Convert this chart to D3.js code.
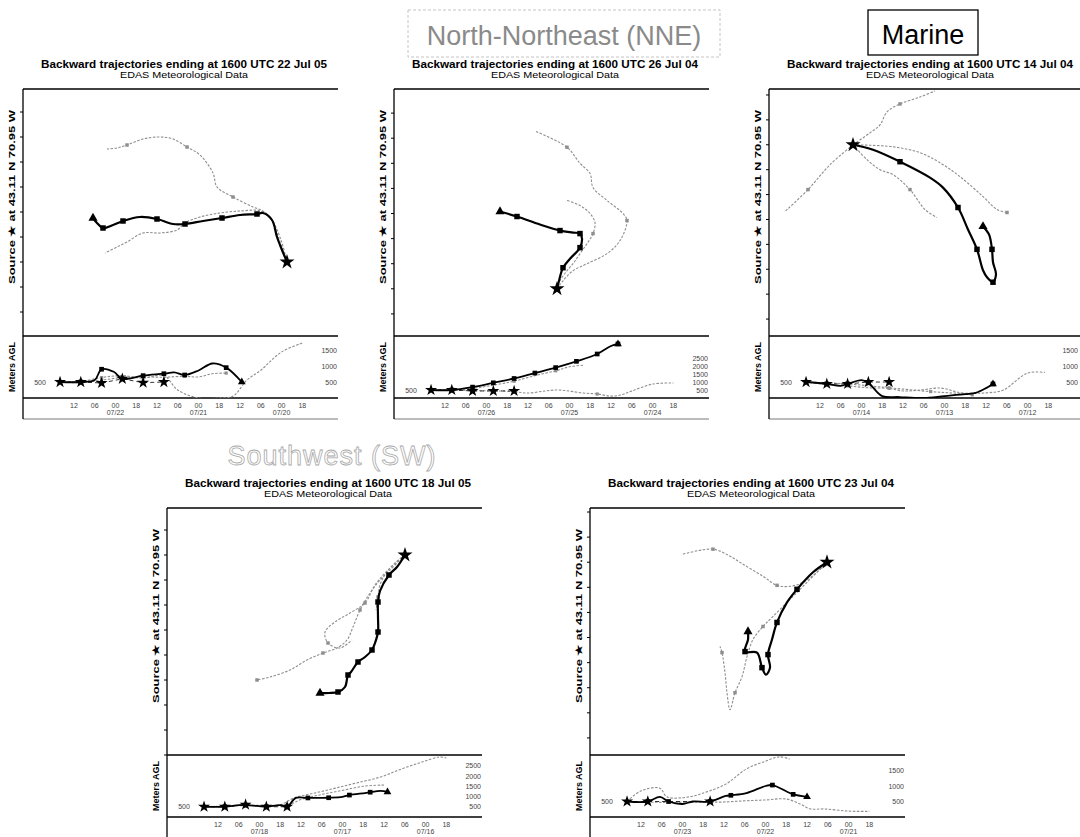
<!DOCTYPE html>
<html>
<head>
<meta charset="utf-8">
<script src="https://cdn.jsdelivr.net/npm/d3@7"></script>
<style>
  body { margin: 0; background: #fff; }
  svg { display: block; font-family: "Liberation Sans", Arial, sans-serif; }
</style>
</head>
<body>
<svg id="chart" width="1080" height="837"></svg>
<script>
// ---------------- data ----------------
// Run end times (all runs end at 1600 UTC) and calendar labels under the time axis
const runEnds = ["22 Jul 05", "26 Jul 04", "14 Jul 04", "18 Jul 05", "23 Jul 04"];
const dateLabels = [
  ["07/22", "07/21", "07/20"],
  ["07/26", "07/25", "07/24"],
  ["07/14", "07/13", "07/12"],
  ["07/18", "07/17", "07/16"],
  ["07/23", "07/22", "07/21"]
];
const dateHours = [16, 40, 64];                       // hours back from 1600 UTC of each 00 UTC
const timeTickHours = [4, 10, 16, 22, 28, 34, 40, 46, 52, 58, 64, 70];
const timeTickLabels = ["12", "06", "00", "18", "12", "06", "00", "18", "12", "06", "00", "18"];
const hourDomain = [-10.7, 80.3];

// Vertical profile axes (metres AGL)
const heightTicks = [
  [500, 1000, 1500],
  [500, 1000, 1500, 2000, 2500],
  [500, 1000, 1500],
  [500, 1000, 1500, 2000, 2500],
  [500, 1000, 1500]
];
const heightTops = [1940, 3875, 1940, 3025, 2000];
const startHeight = 500;

// Map extents in degrees relative to the receptor (43.11 N, 70.95 W)
const lonExtents = [[-26.4, 5.1], [-16.3, 15.2], [-8.4, 23.1], [-23.8, 7.7], [-23.7, 7.8]];
const latExtents = [[-7.4, 17.3], [-4.7, 19.9], [-19.2, 5.6], [-20.0, 4.7], [-19.2, 5.4]];

// Trajectory tracks: [hours back, dLon, dLat]
const t1Black = [[0,0,0],[2,-0.5,1.2],[4,-1.0,2.5],[5,-1.5,4.2],[5.5,-2.4,4.9],[6,-3.0,4.8],[9,-4.7,4.7],[12,-6.5,4.4],[15,-8.4,4.1],[18,-10.2,3.8],[21,-11.4,3.8],[24,-13.0,4.3],[27,-14.7,4.5],[30,-16.4,4.1],[33,-17.4,3.7],[36,-18.4,3.4],[38,-19.0,3.9],[40,-19.4,4.4]];
const t1GreyA = [[0,0,0],[3,-0.6,2.2],[6,-1.5,4.2],[8,-2.4,5.1],[10,-3.4,5.5],[12,-5.4,6.5],[15,-7.0,7.5],[18,-7.4,8.9],[21,-8.7,10.7],[24,-10.0,11.5],[27,-11.4,12.3],[30,-12.7,12.5],[33,-14.4,12.3],[36,-16.0,11.7],[39,-17.0,11.4],[42,-18.0,11.3]];
const t1GreyB = [[0,0,0],[3,-0.7,2.0],[6,-1.6,4.3],[8,-2.6,5.1],[11,-4.7,5.1],[14,-6.7,4.9],[17,-8.7,4.5],[20,-10.2,3.9],[23,-11.0,3.2],[26,-12.7,2.9],[29,-14.4,2.9],[32,-16.0,2.0],[35,-17.0,1.5],[38,-18.2,0.9]];

const t2Black = [[0,0,0],[3,0.2,0.8],[6,0.6,2.1],[9,1.3,3.0],[12,2.3,4.1],[15,2.5,5.0],[18,2.3,5.5],[21,1.6,5.6],[24,0.3,5.8],[27,-1.7,6.4],[30,-4.0,7.2],[34,-5.7,7.7]];
const t2GreyA = [[0,0,0],[2,0.6,0.8],[4,1.6,1.8],[6,3.0,2.5],[8,5.0,3.5],[10,6.3,4.8],[12,7.0,6.8],[14,6.6,7.5],[16,5.0,8.8],[18,3.6,10.1],[20,3.3,11.5],[22,2.3,12.5],[24,1.0,14.1],[27,-2.2,15.7]];
const t2GreyB = [[0,0,0],[2,0.3,0.8],[4,1.0,1.8],[6,1.6,2.5],[8,2.3,3.5],[10,3.0,4.5],[12,3.6,5.5],[14,3.8,6.6],[16,3.3,7.5],[18,2.3,8.3],[20,1.0,8.8]];

const t3Black = [[0,0,0],[3,2.0,-0.5],[6,4.7,-1.7],[9,7.7,-3.3],[10.5,9.0,-4.3],[12,10.5,-6.3],[15,11.5,-8.5],[18,12.4,-10.5],[21,13.0,-12.6],[22,13.4,-13.3],[24,14.0,-13.8],[26,14.3,-13.0],[28,14.0,-11.8],[30,13.9,-10.5],[33,13.6,-9.0],[36,13.0,-8.2]];
const t3GreyA = [[0,0,0],[4,4.0,-0.2],[8,6.7,-0.8],[11,8.7,-1.8],[14,10.7,-3.2],[18,13.0,-5.2],[22,14.4,-6.5],[24,15.4,-6.8]];
const t3GreyB = [[0,0,0],[3,1.7,1.2],[6,2.7,2.0],[9,3.4,3.3],[12,4.7,4.1],[15,6.7,4.8],[18,8.2,5.4]];
const t3GreyC = [[0,0,0],[3,1.4,-1.5],[6,2.7,-2.5],[9,4.0,-3.0],[12,5.7,-4.5],[15,7.2,-6.5],[18,8.4,-7.3]];
const t3GreyD = [[0,0,0],[6,-2.3,-2.0],[12,-4.5,-4.5],[18,-6.8,-6.7]];

const t4Black = [[0,0,0],[3,-0.8,-1.2],[6,-1.6,-2.0],[9,-2.5,-3.6],[12,-2.7,-4.7],[15,-2.7,-6.2],[18,-2.7,-7.7],[21,-3.0,-8.8],[24,-3.3,-9.5],[27,-4.0,-10.2],[30,-4.7,-10.7],[33,-5.4,-11.7],[36,-5.7,-12.0],[39,-6.0,-13.2],[42,-6.7,-13.7],[45,-7.6,-13.8],[48,-8.5,-13.8]];
const t4GreyA = [[0,0,0],[3,-1.5,-1.5],[6,-2.5,-2.5],[9,-3.5,-3.8],[12,-4.5,-5.5],[15,-5.2,-7.2],[18,-5.8,-8.5],[21,-6.8,-9.3],[24,-8.2,-9.8],[27,-9.8,-10.5],[30,-11.5,-11.5],[33,-13.5,-12.2],[36,-14.8,-12.5]];
const t4GreyB = [[0,0,0],[3,-1.0,-0.8],[6,-1.9,-1.8],[9,-2.5,-3.0],[12,-2.7,-4.2],[15,-2.9,-5.5]];
const t4GreyC = [[0,0,0],[4,-1.8,-1.6],[8,-3.0,-3.0],[12,-4.0,-4.8],[15,-5.5,-5.8],[18,-7.0,-6.7],[21,-8.0,-7.7],[24,-7.7,-8.8],[27,-6.5,-9.3],[30,-5.3,-8.5]];

const t5Black = [[0,0,0],[3,-1.4,-1.0],[6,-3.0,-2.7],[9,-4.0,-4.0],[12,-5.0,-6.0],[15,-5.5,-7.7],[18,-5.9,-9.2],[20,-5.7,-10.5],[22,-6.1,-11.2],[24,-6.5,-10.5],[27,-7.0,-9.0],[30,-8.2,-8.9],[33,-7.9,-7.7],[36,-7.9,-6.9]];
const t5GreyA = [[0,0,0],[3,-1.0,-1.0],[6,-2.4,-2.0],[9,-3.7,-2.4],[12,-5.0,-2.3],[15,-6.4,-1.4],[18,-8.4,-0.2],[21,-9.7,0.6],[24,-11.4,1.3],[28,-14.4,0.8]];
const t5GreyB = [[0,0,0],[3,-2.0,-2.0],[6,-3.7,-3.7],[9,-5.4,-5.4],[12,-6.4,-6.4],[15,-7.4,-7.7],[18,-8.0,-9.4],[21,-8.5,-11.4],[24,-9.2,-13.0],[27,-9.7,-14.7],[30,-10.0,-13.0],[33,-10.2,-11.0],[36,-10.5,-9.0],[39,-10.7,-8.4]];

// Height profiles: [hours back, metres AGL]
const z1Black = [[0,500],[6,500],[10,560],[12,900],[15.5,820],[18,600],[24,700],[30,760],[33,800],[36,720],[40,860],[44,1080],[48,950],[52.5,500]];
const z1Stars = [[0,500],[6,500],[12,470],[18,600],[24,480],[30,500]];
const z1GreyA = [[0,500],[6,520],[12,640],[18,700],[24,620],[30,700],[34,250],[40,0],[46,0],[50,60],[54,560],[58,870],[64,1440],[70,1720]];
const z1GreyB = [[0,500],[6,480],[12,560],[18,640],[24,660],[30,650],[36,680],[40,660],[44,760],[48,780]];

const z2Black = [[0,500],[6,500],[12,680],[18,950],[24,1220],[30,1560],[36,1900],[42,2290],[48,2750],[52,3250],[54,3380]];
const z2Stars = [[0,500],[6,500],[12,440],[18,440],[24,440]];
const z2GreyA = [[0,500],[6,480],[12,460],[18,450],[24,400],[28,310],[33,440],[37,500],[44,310],[48,250],[52,120],[55,200],[58,440],[64,870],[70,940]];
const z2GreyB = [[0,500],[6,520],[12,600],[18,800],[24,1050],[30,1400],[36,1700],[40,1950],[44,2050]];

const z3Black = [[0,500],[6,440],[10,380],[12,440],[16,560],[18,480],[22,60],[27,30],[34,0],[40,60],[46,120],[49,160],[52,310],[54,440]];
const z3Stars = [[0,500],[6,440],[12,440],[18,500],[24,500]];
const z3GreyA = [[0,500],[6,420],[12,380],[18,320],[24,300],[28,220],[33,250],[39,310],[44,180],[48,100]];
const z3GreyB = [[0,500],[12,440],[24,320],[36,200],[44,150],[52,160],[57,250],[64,780],[69,800]];

const z4Black = [[0,500],[6,500],[10,580],[12,580],[15.5,540],[18,500],[22,580],[24,500],[26.5,930],[30,930],[36,940],[40,980],[42,1070],[46.5,1170],[48,1210],[51,1270],[53,1220]];
const z4Stars = [[0,500],[6,500],[12,600],[18,500],[24,500]];
const z4GreyA = [[0,500],[6,520],[12,580],[18,560],[22,600],[26,930],[32,1170],[38,1410],[44,1660],[51,1950],[57,2340],[63,2680],[68,2930],[70,2880]];
const z4GreyB = [[0,500],[12,560],[24,580],[28,850],[34,1100],[40,1300],[46,1500],[52,1560]];

const z5Black = [[0,500],[6,500],[9.5,650],[12,500],[16,420],[19,500],[24,500],[28.5,680],[30,700],[34.5,770],[40,1000],[42,1030],[46.5,800],[48,730],[52,650]];
const z5Stars = [[0,500],[6,500],[24,500]];
const z5GreyA = [[0,500],[4,840],[9.5,930],[11.5,650],[18,650],[23,810],[28.5,1060],[34.5,1550],[40,1800],[44,1940],[47,1870]];
const z5GreyB = [[0,500],[6,480],[12,470],[18,480],[24,480],[27,480],[33.5,520],[40,550],[46,580],[50,420],[53,260],[57,260],[64,190],[70,180]];

const panels = [
  { end: runEnds[0], dates: dateLabels[0], lon: lonExtents[0], lat: latExtents[0], zTop: heightTops[0], zTicks: heightTicks[0],
    black: t1Black, greys: [t1GreyA, t1GreyB], zBlack: z1Black, zStars: z1Stars, zGreys: [z1GreyA, z1GreyB] },
  { end: runEnds[1], dates: dateLabels[1], lon: lonExtents[1], lat: latExtents[1], zTop: heightTops[1], zTicks: heightTicks[1],
    black: t2Black, greys: [t2GreyA, t2GreyB], zBlack: z2Black, zStars: z2Stars, zGreys: [z2GreyA, z2GreyB] },
  { end: runEnds[2], dates: dateLabels[2], lon: lonExtents[2], lat: latExtents[2], zTop: heightTops[2], zTicks: heightTicks[2],
    black: t3Black, greys: [t3GreyA, t3GreyB, t3GreyC, t3GreyD], zBlack: z3Black, zStars: z3Stars, zGreys: [z3GreyA, z3GreyB] },
  { end: runEnds[3], dates: dateLabels[3], lon: lonExtents[3], lat: latExtents[3], zTop: heightTops[3], zTicks: heightTicks[3],
    black: t4Black, greys: [t4GreyA, t4GreyB, t4GreyC], zBlack: z4Black, zStars: z4Stars, zGreys: [z4GreyA, z4GreyB] },
  { end: runEnds[4], dates: dateLabels[4], lon: lonExtents[4], lat: latExtents[4], zTop: heightTops[4], zTicks: heightTicks[4],
    black: t5Black, greys: [t5GreyA, t5GreyB], zBlack: z5Black, zStars: z5Stars, zGreys: [z5GreyA, z5GreyB] }
];

// ---------------- layout ----------------
const WIDTH = 1080;
const MAP_W = 315, MAP_H = 247, PROFILE_H = 62;
const layout = [
  { left: 23,  top: 89 },
  { left: 394, top: 89 },
  { left: 769, top: 89 },
  { left: 167, top: 508 },
  { left: 590, top: 508 }
];

const svg = d3.select("#chart");
const defs = svg.append("defs");
const GREY = "#8e8e8e";

// ---------------- group headings ----------------
const head = svg.append("g");
head.append("rect").attr("x", 408).attr("y", 10).attr("width", 312).attr("height", 47)
  .attr("fill", "none").attr("stroke", "#c4c4c4").attr("stroke-width", 1).attr("stroke-dasharray", "3,2");
head.append("text").attr("x", 564).attr("y", 45).attr("text-anchor", "middle")
  .attr("font-size", 27).attr("fill", "#8a8a8a").text("North-Northeast (NNE)");
head.append("rect").attr("x", 868).attr("y", 10).attr("width", 110).attr("height", 45)
  .attr("fill", "none").attr("stroke", "#000").attr("stroke-width", 1.3);
head.append("text").attr("x", 923).attr("y", 44).attr("text-anchor", "middle")
  .attr("font-size", 27).attr("fill", "#000").text("Marine");
head.append("text").attr("x", 332).attr("y", 465).attr("text-anchor", "middle")
  .attr("font-size", 27).attr("fill", "#fff").attr("stroke", "#a9a9a9").attr("stroke-width", 0.8)
  .attr("letter-spacing", 1).text("Southwest (SW)");

// ---------------- panels ----------------
function drawPanel(p, L, k) {
  const left = L.left, top = L.top, right = left + MAP_W;
  const mapBottom = top + MAP_H, ground = mapBottom + PROFILE_H, base = ground + 21;

  const x = d3.scaleLinear().domain(p.lon).range([left, right]);
  const y = d3.scaleLinear().domain(p.lat).range([mapBottom, top]);
  const tx = d3.scaleLinear().domain(hourDomain).range([left, right]);
  const hz = d3.scaleLinear().domain([0, p.zTop]).range([ground, mapBottom]);

  const g = svg.append("g");
  const mapClip = "map" + k, profClip = "prof" + k;
  defs.append("clipPath").attr("id", mapClip).append("rect")
    .attr("x", left).attr("y", top).attr("width", MAP_W).attr("height", MAP_H);
  defs.append("clipPath").attr("id", profClip).append("rect")
    .attr("x", left).attr("y", mapBottom).attr("width", MAP_W).attr("height", PROFILE_H);

  // titles
  g.append("text").attr("x", left + 161).attr("y", top - 21).attr("text-anchor", "middle")
    .attr("font-size", 11.5).attr("font-weight", "bold").attr("textLength", 286)
    .attr("lengthAdjust", "spacingAndGlyphs")
    .text(`Backward trajectories ending at 1600 UTC ${p.end}`);
  g.append("text").attr("x", left + 161).attr("y", top - 11).attr("text-anchor", "middle")
    .attr("font-size", 9).attr("textLength", 128).attr("lengthAdjust", "spacingAndGlyphs")
    .text("EDAS Meteorological Data");

  // frame
  const frame = g.append("g").attr("stroke", "#000").attr("fill", "none");
  frame.append("line").attr("x1", left).attr("x2", right).attr("y1", top).attr("y2", top).attr("stroke-width", 1.5);
  frame.append("line").attr("x1", left).attr("x2", right).attr("y1", mapBottom).attr("y2", mapBottom).attr("stroke-width", 1.4);
  frame.append("line").attr("x1", left).attr("x2", right).attr("y1", ground).attr("y2", ground).attr("stroke-width", 1.4);
  frame.append("line").attr("x1", left).attr("x2", right).attr("y1", base).attr("y2", base).attr("stroke-width", 0.8).attr("stroke", "#555");
  frame.append("line").attr("x1", left).attr("x2", left).attr("y1", top).attr("y2", base).attr("stroke-width", 1.3);

  // latitude ticks on the left edge of the map
  const latTicks = d3.range(Math.ceil(p.lat[0] / 2.5) * 2.5, p.lat[1], 2.5);
  frame.selectAll(null).data(latTicks).join("line")
    .attr("x1", left - 3).attr("x2", left).attr("y1", d => y(d)).attr("y2", d => y(d)).attr("stroke-width", 1);

  // vertical axis titles
  g.append("text").attr("transform", `translate(${left - 8},${top + 108}) rotate(-90)`)
    .attr("text-anchor", "middle").attr("font-size", 9).attr("font-weight", "bold")
    .attr("textLength", 174).attr("lengthAdjust", "spacingAndGlyphs")
    .text("Source \u2605 at 43.11 N 70.95 W");
  g.append("text").attr("transform", `translate(${left - 8},${(mapBottom + ground) / 2}) rotate(-90)`)
    .attr("text-anchor", "middle").attr("font-size", 9).attr("font-weight", "bold")
    .attr("textLength", 50).attr("lengthAdjust", "spacingAndGlyphs")
    .text("Meters AGL");

  // ---- map view ----
  const lineMap = d3.line().x(d => x(d[1])).y(d => y(d[2])).curve(d3.curveCatmullRom.alpha(0.5));
  const mg = g.append("g").attr("clip-path", `url(#${mapClip})`);
  p.greys.forEach(t => {
    mg.append("path").attr("d", lineMap(t)).attr("fill", "none")
      .attr("stroke", GREY).attr("stroke-width", 1.1).attr("stroke-dasharray", "2.5,1.5");
    mg.selectAll(null).data(t.filter(d => d[0] > 0 && d[0] % 12 === 0)).join("path")
      .attr("transform", d => `translate(${x(d[1])},${y(d[2])})`)
      .attr("d", d3.symbol(d3.symbolSquare, 12)).attr("fill", GREY);
  });
  mg.append("path").attr("d", lineMap(p.black)).attr("fill", "none")
    .attr("stroke", "#000").attr("stroke-width", 2.2).attr("stroke-linejoin", "round");
  const last = p.black[p.black.length - 1];
  mg.selectAll(null).data(p.black.filter(d => d[0] > 0 && d[0] % 6 === 0 && d !== last)).join("path")
    .attr("transform", d => `translate(${x(d[1])},${y(d[2])})`)
    .attr("d", d3.symbol(d3.symbolSquare, 30)).attr("fill", "#000");
  mg.append("path").attr("transform", `translate(${x(last[1])},${y(last[2])})`)
    .attr("d", d3.symbol(d3.symbolTriangle, 36)).attr("fill", "#000");
  g.append("path").attr("transform", `translate(${x(0)},${y(0)})`)
    .attr("d", d3.symbol(d3.symbolStar, 70)).attr("fill", "#000");

  // ---- height profile ----
  const lineZ = d3.line().x(d => tx(d[0])).y(d => hz(d[1])).curve(d3.curveCatmullRom.alpha(0.5));
  const pg = g.append("g").attr("clip-path", `url(#${profClip})`);
  p.zGreys.forEach(t => {
    pg.append("path").attr("d", lineZ(t)).attr("fill", "none")
      .attr("stroke", GREY).attr("stroke-width", 1.1).attr("stroke-dasharray", "2.5,1.5");
    pg.selectAll(null).data(t.filter(d => d[0] > 0 && d[0] % 12 === 0)).join("path")
      .attr("transform", d => `translate(${tx(d[0])},${hz(d[1])})`)
      .attr("d", d3.symbol(d3.symbolSquare, 10)).attr("fill", GREY);
  });
  pg.append("path").attr("d", d3.line().x(d => tx(d[0])).y(d => hz(d[1]))(p.zStars)).attr("fill", "none")
    .attr("stroke", "#000").attr("stroke-width", 0.8).attr("stroke-dasharray", "4,3");
  pg.append("path").attr("d", lineZ(p.zBlack)).attr("fill", "none")
    .attr("stroke", "#000").attr("stroke-width", 1.8);
  const zLast = p.zBlack[p.zBlack.length - 1];
  pg.selectAll(null).data(p.zBlack.filter(d => d[0] > 0 && d[0] % 6 === 0)).join("path")
    .attr("transform", d => `translate(${tx(d[0])},${hz(d[1])})`)
    .attr("d", d3.symbol(d3.symbolSquare, 22)).attr("fill", "#000");
  pg.append("path").attr("transform", `translate(${tx(zLast[0])},${hz(zLast[1])})`)
    .attr("d", d3.symbol(d3.symbolTriangle, 26)).attr("fill", "#000");
  pg.selectAll(null).data(p.zStars).join("path")
    .attr("transform", d => `translate(${tx(d[0])},${hz(d[1])})`)
    .attr("d", d3.symbol(d3.symbolStar, 45)).attr("fill", "#000");

  // height labels (kept inside the page when a panel runs past its right edge)
  const lab = g.append("g").attr("font-size", 7).attr("fill", "#444");
  lab.selectAll(null).data(p.zTicks).join("text")
    .attr("x", Math.min(right - 1, WIDTH - 2)).attr("y", d => hz(d) + 2.5)
    .attr("text-anchor", "end").text(d => d);
  lab.append("text").attr("x", left + 17).attr("y", hz(startHeight) + 2.5)
    .attr("text-anchor", "middle").text(startHeight);

  // time axis labels
  lab.selectAll(null).data(timeTickHours).join("text")
    .attr("x", d => tx(d)).attr("y", ground + 9.5).attr("text-anchor", "middle")
    .text((d, i) => timeTickLabels[i]);
  lab.selectAll(null).data(dateHours).join("text")
    .attr("x", d => tx(d)).attr("y", ground + 16.5).attr("text-anchor", "middle")
    .text((d, i) => p.dates[i]);
}

panels.forEach((p, k) => drawPanel(p, layout[k], k));
</script>
</body>
</html>
